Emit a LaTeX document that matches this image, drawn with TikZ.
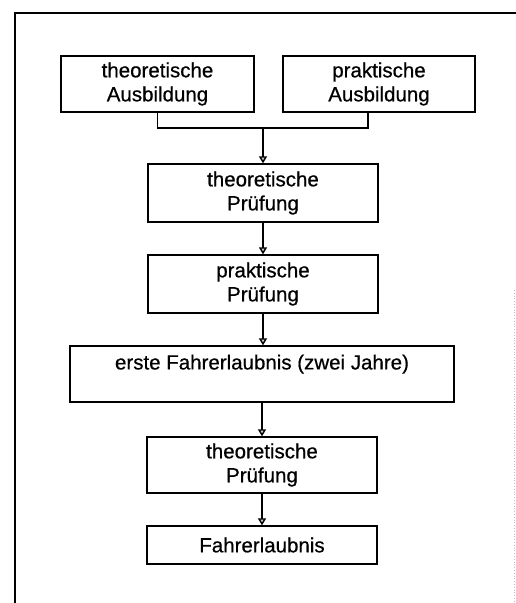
\documentclass[tikz,border=0pt]{standalone}
\usepackage{fontspec}
\setmainfont{Liberation Sans}
\newfontfamily\scanfont[FakeBold=0.6]{Liberation Sans}
\usepackage{tikz}
\usetikzlibrary{arrows.meta}

\begin{document}
\begin{tikzpicture}[x=1pt,y=-1pt,
    box/.style={draw,line width=1.4pt,align=center,inner sep=0pt,
      font=\scanfont\fontsize{20.5}{24}\selectfont},
    arr/.style={line width=1.4pt,-{Triangle[length=7pt,width=8pt,fill=gray!40]}}]
  \useasboundingbox (0,0) rectangle (516,603);
  \draw[line width=1.8pt] (15,603) -- (15,13) -- (516,13);
  \draw[gray!50,dotted,line width=0.8pt] (514,290) -- (514,603);
  \node (ausbtheo) at (157.5,84) [box,minimum width=193pt,minimum height=56pt] {theoretische\\Ausbildung};
  \node (ausbprak) at (379,84) [box,minimum width=192pt,minimum height=56pt] {praktische\\Ausbildung};
  \node (pruetheo) at (263,193) [box,minimum width=230pt,minimum height=58pt] {theoretische\\Prüfung};
  \node (prueprak) at (263,284) [box,minimum width=230pt,minimum height=58pt] {praktische\\Prüfung};
  \node (erstefe) at (262,374) [box,minimum width=384pt,minimum height=56pt] {erste Fahrerlaubnis (zwei Jahre)\\\mbox{}};
  \node (pruefung) at (262,465) [box,minimum width=230pt,minimum height=56pt] {theoretische\\Prüfung};
  \node (fe) at (262,545) [box,minimum width=230pt,minimum height=38pt] {Fahrerlaubnis};
  \coordinate (join) at (263,128);
  \draw[line width=1.4pt] (ausbtheo.south) |- (join) -| ([xshift=-11pt]ausbprak.south);
  \draw[arr] (join) -- (pruetheo.north);
  \draw[arr] (pruetheo) -- (prueprak);
  \draw[arr] (prueprak) -- (erstefe.north -| prueprak);
  \draw[arr] (erstefe.south -| pruefung) -- (pruefung);
  \draw[arr] (pruefung) -- (fe);
\end{tikzpicture}
\end{document}
